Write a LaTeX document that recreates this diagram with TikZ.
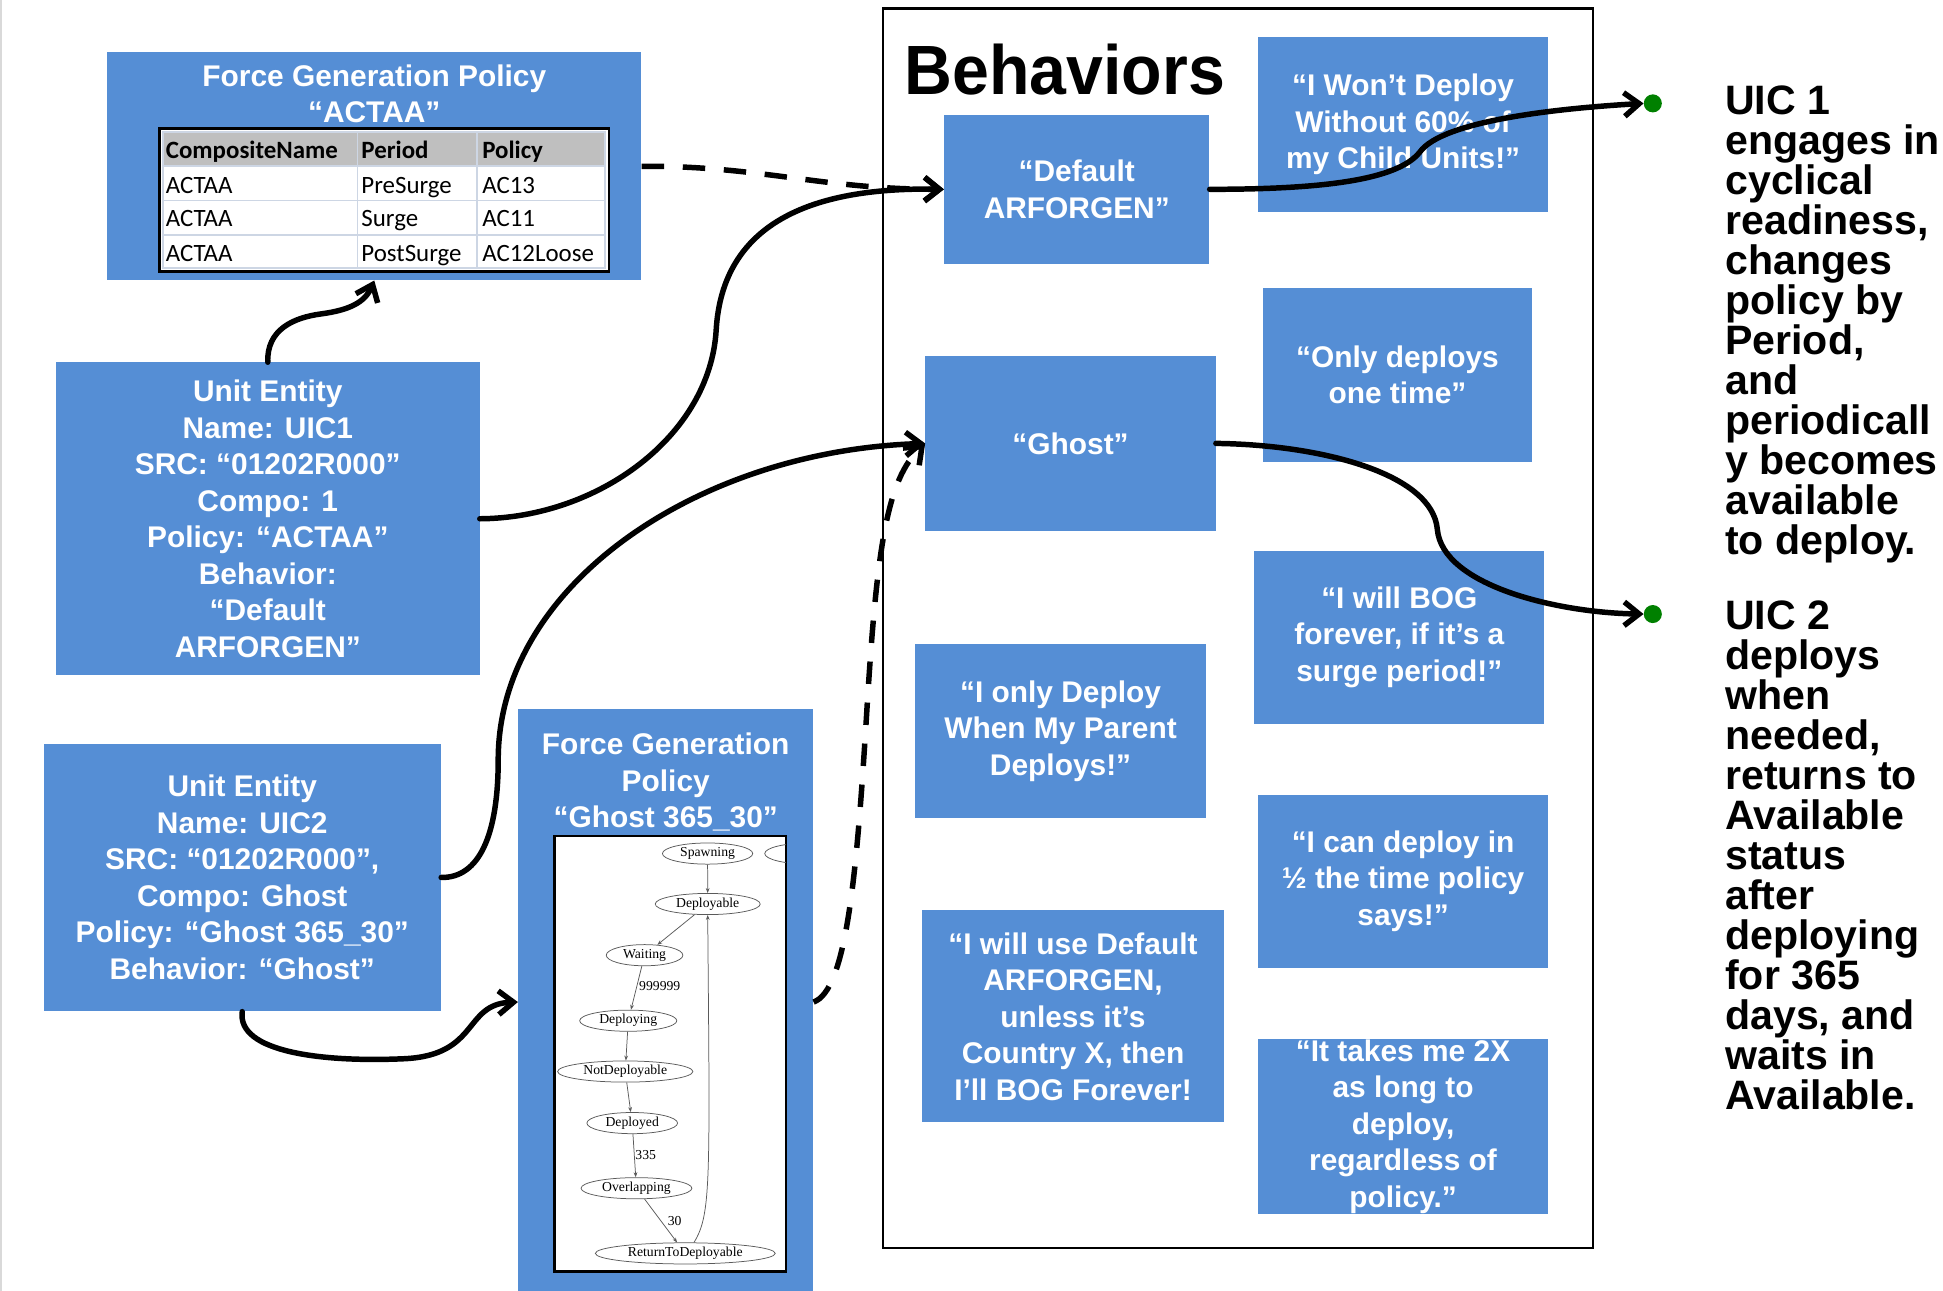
\documentclass[tikz,border=0pt]{standalone}
\usepackage{fontspec}
\setmainfont{Liberation Sans}
\newfontfamily\tabfont{Carlito}
\newfontfamily\gvfont{Liberation Serif}
\usetikzlibrary{arrows.meta,shapes.geometric}
\definecolor{boxblue}{RGB}{85,142,213}
\definecolor{dotgreen}{RGB}{0,128,0}
\definecolor{gridc}{RGB}{205,214,228}
\definecolor{hdrgray}{RGB}{191,191,191}
\definecolor{edgegray}{RGB}{90,90,90}
\newcommand\rightfont{\bfseries\fontsize{33}{32.1}\selectfont}
\tikzset{
  bbox/.style={fill=boxblue, text=white, inner sep=0pt, align=center,
    font=\bfseries\fontsize{24}{29.3}\selectfont},
  wtitle/.style={text=white, inner sep=0pt, align=center, font=\bfseries\fontsize{24}{29.3}\selectfont},
  conn/.style={line width=4.4pt, line cap=round, -{Straight Barb[length=12pt,width=19pt]}},
  dconn/.style={line width=4.4pt, dash pattern=on 18pt off 15pt, -{Straight Barb[length=12pt,width=19pt]}},
  gdot/.style={circle, fill=dotgreen, inner sep=0pt, minimum size=14.5pt},
  rtext/.style={inner sep=0pt, anchor=north west, align=left, font=\rightfont},
  tabtxt/.style={inner sep=0pt, anchor=base west, font=\tabfont\fontsize{20}{24}\selectfont},
  tabhdr/.style={inner sep=0pt, anchor=base west, font=\tabfont\bfseries\fontsize{20}{24}\selectfont},
  gvnode/.style={ellipse, draw=edgegray, line width=0.6pt, inner sep=0pt, minimum height=17pt, font=\gvfont\fontsize{11}{12}\selectfont},
  gvedge/.style={draw=edgegray, line width=0.6pt, -{Stealth[length=4pt,width=3pt]}},
  gvlab/.style={inner sep=0pt, anchor=west, font=\gvfont\fontsize{11}{12}\selectfont},
}
\begin{document}
\begin{tikzpicture}[x=1pt,y=-1pt]
\useasboundingbox (0,0) rectangle (1560,1036.5);
\draw[gray!30, line width=2pt] (1,0) -- (1,1036.5);

% ---------- Force Generation Policy ACTAA ----------
\node[fill=boxblue, inner sep=0pt, minimum width=429pt, minimum height=183pt] (fgpA) at (300.5,133.5) {};
\node[wtitle] (fgpAt) at (300.5,75.5) {Force Generation Policy\\“ACTAA”};
\draw[line width=2pt, fill=white] (128,103) rectangle (489,218);
\fill[hdrgray] (131,106) rectangle (486,133);
\draw[gridc, line width=1.5pt] (131,106) rectangle (486,215)
  (131,133) -- (486,133) (131,161) -- (486,161) (131,189) -- (486,189)
  (287,106) -- (287,215) (383,106) -- (383,215);
\node[tabhdr] (h1) at (133,127) {CompositeName};
\node[tabhdr] (h2) at (290,127) {Period};
\node[tabhdr] (h3) at (387,127) {Policy};
\node[tabtxt] (a1) at (133,155) {ACTAA};
\node[tabtxt] (b1) at (290,155) {PreSurge};
\node[tabtxt] (c1) at (387,155) {AC13};
\node[tabtxt] (a2) at (133,182) {ACTAA};
\node[tabtxt] (b2) at (290,182) {Surge};
\node[tabtxt] (c2) at (387,182) {AC11};
\node[tabtxt] (a3) at (133,210) {ACTAA};
\node[tabtxt] (b3) at (290,210) {PostSurge};
\node[tabtxt] (c3) at (387,210) {AC12Loose};

% ---------- Unit entities ----------
\node[bbox, minimum width=340pt, minimum height=251pt] (uic1) at (215,416.5)
  {Unit Entity\\Name: UIC1\\SRC: “01202R000”\\Compo: 1\\Policy: “ACTAA”\\Behavior:\\“Default\\ARFORGEN”};
\node[bbox, minimum width=319pt, minimum height=215pt] (uic2) at (194.5,704.5)
  {Unit Entity\\Name: UIC2\\SRC: “01202R000”,\\Compo: Ghost\\Policy: “Ghost 365\_30”\\Behavior: “Ghost”};

% ---------- Force Generation Policy Ghost ----------
\node[fill=boxblue, inner sep=0pt, minimum width=237pt, minimum height=471pt] (fgpG) at (534.5,804.5) {};
\node[wtitle] (fgpGt) at (534.5,628) {Force Generation\\Policy\\“Ghost 365\_30”};
\draw[line width=2pt, fill=white] (445,671) rectangle (631,1021);
\begin{scope}
\clip (445,671) rectangle (631,1021);
\node[gvnode, minimum width=72pt] (spawn2) at (650,685.3) {};
\end{scope}
\node[gvnode, minimum width=72.5pt] (spawn) at (568.1,685.3) {Spawning};
\node[gvnode, minimum width=84.3pt] (deplb) at (568.2,725.8) {Deployable};
\node[gvnode, minimum width=61.5pt] (wait) at (517.5,766.9) {Waiting};
\node[gvnode, minimum width=78pt] (deploying) at (504.4,819.5) {Deploying};
\node[gvnode, minimum width=108.6pt] (notdep) at (502,860.3) {NotDeployable};
\node[gvnode, minimum width=72.8pt] (deployed) at (507.6,901.7) {Deployed};
\node[gvnode, minimum width=89pt] (overl) at (511,954) {Overlapping};
\node[gvnode, minimum width=144.5pt] (ret) at (550.2,1006.3) {ReturnToDeployable};
\draw[gvedge] (spawn) -- (deplb);
\draw[gvedge] (deplb) -- (wait);
\draw[gvedge] (wait) -- (deploying);
\draw[gvedge] (deploying) -- (notdep);
\draw[gvedge] (notdep) -- (deployed);
\draw[gvedge] (deployed) -- (overl);
\draw[gvedge] (overl) -- (ret);
\draw[gvedge] ([xshift=7pt]ret.north) .. controls (571,975) and (570,950) .. (deplb.south);
\node[gvlab] (l1) at (513,792) {999999};
\node[gvlab] (l2) at (510,927) {335};
\node[gvlab] (l3) at (536,980) {30};

% ---------- Behaviors ----------
\draw[line width=2pt] (709,7) rectangle (1279,1002);
\node[inner sep=0pt, font=\bfseries\fontsize{56}{60}\selectfont] (behav) at (855,56) {\scalebox{0.95}[1]{Behaviors}};
\node[bbox, minimum width=213pt, minimum height=120pt] (dflt) at (864.5,152) {“Default\\ARFORGEN”};
\node[bbox, minimum width=233pt, minimum height=140pt] (wont) at (1126.5,100) {“I Won’t Deploy\\Without 60\% of\\my Child Units!”};
\node[bbox, minimum width=233pt, minimum height=140pt] (ghost) at (859.5,356) {“Ghost”};
\node[bbox, minimum width=216pt, minimum height=140pt] (once) at (1122,301) {“Only deploys\\one time”};
\node[bbox, minimum width=233pt, minimum height=139pt] (bog) at (1123.5,511.5) {“I will BOG\\forever, if it’s a\\surge period!”};
\node[bbox, minimum width=233pt, minimum height=140pt] (parent) at (851.5,587) {“I only Deploy\\When My Parent\\Deploys!”};
\node[bbox, minimum width=233pt, minimum height=139pt] (half) at (1126.5,707.5) {“I can deploy in\\½ the time policy\\says!”};
\node[bbox, minimum width=243pt, minimum height=170pt] (cntry) at (861.5,816) {“I will use Default\\ARFORGEN,\\unless it’s\\Country X, then\\I’ll BOG Forever!};
\node[bbox, minimum width=233pt, minimum height=141pt] (twox) at (1126.5,904.5) {“It takes me 2X\\as long to\\deploy,\\regardless of\\policy.”};

% ---------- Right text ----------
\node[rtext] (r1) at (1385,69) {UIC 1\\engages in\\cyclical\\readiness,\\changes\\policy by\\Period,\\and\\periodicall\\y becomes\\available\\to deploy.};
\node[rtext] (r2) at (1385,482) {UIC 2\\deploys\\when\\needed,\\returns to\\Available\\status\\after\\deploying\\for 365\\days, and\\waits in\\Available.};

\node[gdot] (g1) at (1327,83) {};
\node[gdot] (g2) at (1327,493) {};

% ---------- Connectors ----------
\draw[dconn] (fgpA.east) .. controls (610,133) and (660,152) .. (dflt.west);
\draw[conn] (uic1.north) .. controls (214,265) and (235,255) .. (258,252) .. controls (280,249) and (293,243) .. (fgpA.south);
\draw[conn] (uic1.east) .. controls (480,416) and (570,350) .. (575,265) .. controls (580,180) and (650,150) .. (dflt.west);
\draw[conn] (uic2.east) .. controls (385,705) and (400,670) .. (400,610) .. controls (400,470) and (560,362) .. (ghost.west);
\draw[conn] (uic2.south) .. controls (190,845) and (260,853) .. (325,850) .. controls (385,847) and (372,806) .. (fgpG.west);
\draw[dconn] (fgpG.east) .. controls (680,795) and (688,700) .. (696,570) .. controls (704,440) and (712,385) .. (ghost.west);
\draw[conn] (dflt.east) .. controls (1060,152) and (1122,145) .. (1140,122) .. controls (1158,97) and (1250,87) .. (g1.west);
\draw[conn] (ghost.east) .. controls (1060,357) and (1150,380) .. (1154,425) .. controls (1158,470) and (1250,492) .. (g2.west);
\end{tikzpicture}
\end{document}
